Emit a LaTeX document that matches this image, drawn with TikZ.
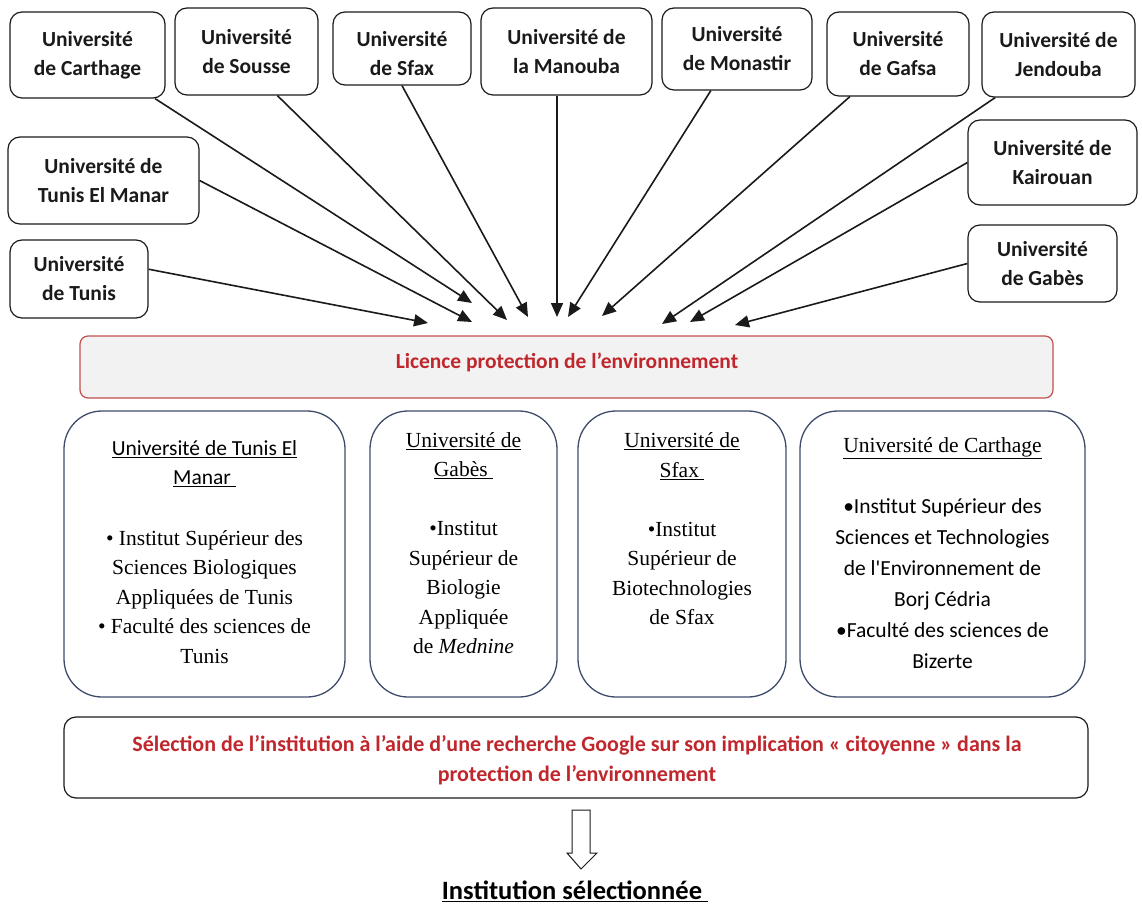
\documentclass[tikz,border=0pt]{standalone}
\usepackage{fontspec}
\setmainfont{Liberation Serif}
\newfontfamily\calib{Carlito}
\usetikzlibrary{arrows.meta}
\definecolor{redtxt}{HTML}{C0272D}
\definecolor{redline}{HTML}{C0504D}
\definecolor{fillgray}{HTML}{F2F2F2}
\definecolor{slate}{HTML}{3E4B6A}
\definecolor{ink}{HTML}{1A1A1A}
\begin{document}
\begin{tikzpicture}[x=1pt,y=-1pt,
  ubox/.style={draw=ink, line width=1.2pt, rounded corners=12pt, inner sep=0pt},
  utxt/.style={align=center, text=ink, font=\calib\bfseries\fontsize{21.5}{29}\selectfont, inner sep=0pt},
  arr/.style={draw=ink, line width=1.6pt, -{Triangle[length=14pt,width=12pt]}},
  mbox/.style={draw=slate, line width=1.3pt, rounded corners=38pt, inner sep=0pt, minimum height=286},
  mtxt/.style={align=center, font=\fontsize{21.5}{29.5}\selectfont, inner sep=0pt},
  ctxt/.style={align=center, font=\calib\fontsize{21.5}{31}\selectfont, inner sep=0pt},
  rtxt/.style={align=center, text=redtxt, font=\calib\bfseries\fontsize{22}{30}\selectfont, inner sep=0pt},
]
\useasboundingbox (0,0) rectangle (1142,907);

% top universities
\node[ubox, utxt, minimum width=155, minimum height=86] (carthage) at (87.5,55) {Université\\de Carthage};
\node[ubox, utxt, minimum width=143, minimum height=87] (sousse) at (246.5,51.5) {Université\\de Sousse};
\node[ubox, minimum width=138, minimum height=73] (sfax) at (402,48.5) {};
\begin{scope}
\clip (sfax.north west) rectangle (sfax.south east);
\node[utxt] (sfaxt) at (402,54) {Université\\de Sfax};
\end{scope}
\node[ubox, utxt, minimum width=171, minimum height=87] (manouba) at (566.5,51.5) {Université de\\la Manouba};
\node[ubox, utxt, minimum width=150, minimum height=82] (monastir) at (737,49) {Université\\de Monastir};
\node[ubox, utxt, minimum width=142, minimum height=84] (gafsa) at (898,54) {Université\\de Gafsa};
\node[ubox, utxt, minimum width=153, minimum height=85] (jendouba) at (1058.5,54.5) {Université de\\Jendouba};
\node[ubox, utxt, minimum width=191, minimum height=87] (elmanar) at (103.5,180.5) {Université de\\Tunis El Manar};
\node[ubox, utxt, minimum width=138, minimum height=78] (tunis) at (79,279) {Université\\de Tunis};
\node[ubox, utxt, minimum width=169, minimum height=85] (kairouan) at (1052.5,162.5) {Université de\\Kairouan};
\node[ubox, utxt, minimum width=149, minimum height=77] (gabes) at (1042.5,263.5) {Université\\de Gabès};

% arrow tips
\coordinate (tC) at (472,303);
\coordinate (tS) at (507,320);
\coordinate (tSf) at (528,317);
\coordinate (tEM) at (472,322);
\coordinate (tT) at (428,323);
\coordinate (tMa) at (557,317);
\coordinate (tMo) at (568,317);
\coordinate (tG) at (602,316);
\coordinate (tJ) at (662,324);
\coordinate (tK) at (690,322);
\coordinate (tGa) at (735,325);

\draw[arr] (carthage) -- (tC);
\draw[arr] (sousse.-55) -- (tS);
\draw[arr] (sfax.south) -- (tSf);
\draw[arr] (elmanar.east) -- (tEM);
\draw[arr] (tunis.8) -- (tT);
\draw[arr] (manouba.south -| tMa) -- (tMa);
\draw[arr] (monastir) -- (tMo);
\draw[arr] (gafsa) -- (tG);
\draw[arr] (jendouba) -- (tJ);
\draw[arr] (kairouan.west) -- (tK);
\draw[arr] (gabes.west) -- (tGa);

% licence
\node[draw=redline, fill=fillgray, line width=1.2pt, rounded corners=8pt, minimum width=973, minimum height=62, inner sep=0pt] (licence) at (566.5,367) {};
\node[rtxt, font=\calib\bfseries\fontsize{21.5}{30}\selectfont] (licencet) at (567,362) {Licence protection de l’environnement};

% middle boxes
\node[mbox, minimum width=281] (b1) at (204.5,554) {};
\node[mbox, minimum width=187] (b2) at (463.5,554) {};
\node[mbox, minimum width=208] (b3) at (682,554) {};
\node[mbox, minimum width=285] (b4) at (942.5,554) {};

\node[mtxt] (b1t) at (204.5,552) {{\calib\underline{Université de Tunis El}}\\{\calib\underline{Manar\ }}\\[31pt]
• Institut Supérieur des\\Sciences Biologiques\\Appliquées de Tunis\\• Faculté des sciences de\\Tunis};
\node[mtxt] (b2t) at (463.5,543) {\underline{Université de}\\\underline{Gabès\ }\\[29.5pt]
•Institut\\Supérieur de\\Biologie\\Appliquée\\de \textit{Mednine}};
\node[mtxt] (b3t) at (682,529) {\underline{Université de}\\\underline{Sfax\ }\\[29.5pt]
•Institut\\Supérieur de\\Biotechnologies\\de Sfax};
\node[ctxt] (b4t) at (942.5,553) {{\rmfamily\underline{Université de Carthage}}\\[30pt]
•Institut Supérieur des\\Sciences et Technologies\\de l'Environnement de\\Borj Cédria\\•Faculté des sciences de\\Bizerte};

% selection
\node[draw=ink, line width=1.2pt, rounded corners=12pt, minimum width=1024, minimum height=81, inner sep=0pt] (sel) at (576,757.5) {};
\node[rtxt] (selt) at (577,760) {Sélection de l’institution à l’aide d’une recherche Google sur son implication « citoyenne » dans la\\protection de l’environnement};

% hollow arrow
\coordinate (harr) at (581,810);
\draw[draw=ink, line width=1pt, fill=white] (harr) ++(-9,0) -- ++(0,43) -- ++(-5,0) -- ++(14,16) -- ++(16,-16) -- ++(-7,0) -- ++(0,-43) -- cycle;

\node[inner sep=0pt, font=\calib\bfseries\fontsize{26.5}{30}\selectfont] (final) at (575,891) {\underline{Institution sélectionnée\ }};
\end{tikzpicture}
\end{document}
